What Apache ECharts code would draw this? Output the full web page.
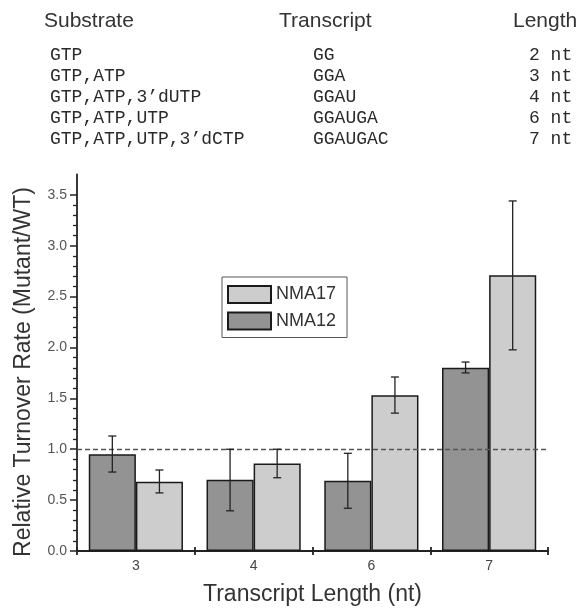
<!DOCTYPE html>
<html>
<head>
<meta charset="utf-8">
<script src="https://cdn.jsdelivr.net/npm/echarts@6/dist/echarts.min.js"></script>
<style>html,body{margin:0;padding:0;background:#fff}#c{width:579px;height:611px}</style>
</head>
<body>
<div id="c"></div>
<script>
// ---- data ----
const categories = ['3', '4', '6', '7'];
const nma12 = [0.952, 0.70, 0.69, 1.80];
const nma17 = [0.681, 0.861, 1.53, 2.71];
const nma12Low = [0.776, 0.395, 0.42, 1.75];
const nma12High = [1.13, 1.00, 0.96, 1.857];
const nma17Low = [0.571, 0.72, 1.355, 1.977];
const nma17High = [0.796, 1.00, 1.71, 3.44];
const refLine = 1.0;
const yMajorTicks = [0, 0.5, 1.0, 1.5, 2.0, 2.5, 3.0, 3.5];
const yMinorTicks = [0.1, 0.2, 0.3, 0.4, 0.6, 0.7, 0.8, 0.9, 1.1, 1.2, 1.3, 1.4, 1.6, 1.7, 1.8, 1.9,
  2.1, 2.2, 2.3, 2.4, 2.6, 2.7, 2.8, 2.9, 3.1, 3.2, 3.3, 3.4];
const headers = ['Substrate', 'Transcript', 'Length'];
const substrates = ['GTP', 'GTP,ATP', 'GTP,ATP,3\u2019dUTP', 'GTP,ATP,UTP', 'GTP,ATP,UTP,3\u2019dCTP'];
const transcripts = ['GG', 'GGA', 'GGAU', 'GGAUGA', 'GGAUGAC'];
const lengths = ['2 nt', '3 nt', '4 nt', '6 nt', '7 nt'];

// ---- chart ----
const SANS = "'Liberation Sans', Arial, sans-serif";
const MONO = "'Liberation Mono', 'Courier New', monospace";
const chart = echarts.init(document.getElementById('c'), null, {renderer: 'canvas'});

const headerX = [44, 279, 513];
const rowX = [50, 313, 529];
const rowY0 = 55, rowStep = 21;
const graphics = [];
headers.forEach((h, i) => graphics.push({
  type: 'text', x: headerX[i], y: 21,
  style: {text: h, font: '21px ' + SANS, fill: '#333', textVerticalAlign: 'middle', verticalAlign: 'middle'}
}));
[substrates, transcripts, lengths].forEach((col, ci) => col.forEach((t, ri) => graphics.push({
  type: 'text', x: rowX[ci], y: rowY0 + ri * rowStep,
  style: {text: t, font: '18px ' + MONO, fill: '#2a2a2a', textVerticalAlign: 'middle', verticalAlign: 'middle'}
})));
graphics.push({
  type: 'text', x: 24, y: 372, rotation: Math.PI / 2,
  style: {text: 'Relative Turnover Rate (Mutant/WT)', font: '23px ' + SANS, fill: '#333',
    align: 'center', verticalAlign: 'middle', textAlign: 'center', textVerticalAlign: 'middle'}
});

function errRender(sign) {
  return function (params, api) {
    const c = api.value(0);
    const lo = api.coord([c, api.value(1)]);
    const hi = api.coord([c, api.value(2)]);
    const bw = api.size([1, 0])[0];
    const x = lo[0] + sign * bw * 0.2;
    const cap = 4;
    const st = {stroke: '#222', lineWidth: 1.3};
    return {type: 'group', children: [
      {type: 'line', shape: {x1: x, y1: lo[1], x2: x, y2: hi[1]}, style: st},
      {type: 'line', shape: {x1: x - cap, y1: hi[1], x2: x + cap, y2: hi[1]}, style: st},
      {type: 'line', shape: {x1: x - cap, y1: lo[1], x2: x + cap, y2: lo[1]}, style: st}
    ]};
  };
}

const option = {
  animation: false,
  backgroundColor: '#fff',
  graphic: graphics,
  grid: {left: 77, right: 31, top: 174.5, bottom: 57.5, containLabel: false},
  legend: {
    data: ['NMA17', 'NMA12'],
    orient: 'vertical', left: 222, top: 277,
    icon: 'rect', itemWidth: 43, itemHeight: 17, itemGap: 7.5,
    padding: [8, 11, 7, 5],
    borderColor: '#555', borderWidth: 1, backgroundColor: '#fff',
    textStyle: {fontFamily: SANS, fontSize: 18, color: '#333'},
    selectedMode: false
  },
  xAxis: [{
    type: 'category', data: categories, position: 'bottom',
    axisLine: {lineStyle: {color: '#222', width: 1.8}},
    axisTick: {show: true, length: 4, lineStyle: {color: '#222', width: 1.8}},
    axisLabel: {fontFamily: SANS, fontSize: 14, color: '#444', margin: 8},
    name: 'Transcript Length (nt)', nameLocation: 'middle', nameGap: 32,
    nameTextStyle: {fontFamily: SANS, fontSize: 23, color: '#333'},
    splitLine: {show: false}
  }, {
    type: 'category', data: categories, position: 'bottom',
    axisLine: {show: false},
    axisTick: {show: true, inside: true, length: 4, lineStyle: {color: '#222', width: 1.8}},
    axisLabel: {show: false}, splitLine: {show: false}
  }],
  yAxis: [{
    type: 'value', min: 0, max: 3.7, interval: 0.1, position: 'left',
    axisLine: {show: true, lineStyle: {color: '#222', width: 1.8}},
    axisTick: {show: true, length: 7, customValues: yMajorTicks, lineStyle: {color: '#222', width: 1.5}},
    axisLabel: {customValues: yMajorTicks, formatter: v => v.toFixed(1),
      fontFamily: SANS, fontSize: 14, color: '#555', margin: 10},
    splitLine: {show: false}
  }, {
    type: 'value', min: 0, max: 3.7, interval: 0.1, position: 'left',
    axisLine: {show: false},
    axisTick: {show: true, length: 4, customValues: yMinorTicks, lineStyle: {color: '#222', width: 1.3}},
    axisLabel: {show: false}, splitLine: {show: false}
  }],
  series: [{
    name: 'NMA12', type: 'bar', data: nma12, barGap: '0%', barCategoryGap: '20%',
    itemStyle: {color: '#939393', borderColor: '#1a1a1a', borderWidth: 1.5},
    markLine: {
      silent: true, symbol: 'none', label: {show: false},
      lineStyle: {type: [5, 3], color: '#555', width: 1.3},
      data: [{yAxis: refLine}]
    }
  }, {
    name: 'NMA17', type: 'bar', data: nma17, barGap: '0%', barCategoryGap: '20%',
    itemStyle: {color: '#cdcdcd', borderColor: '#1a1a1a', borderWidth: 1.5}
  }, {
    name: 'err12', type: 'custom', renderItem: errRender(-1), z: 5,
    data: categories.map((c, i) => [i, nma12Low[i], nma12High[i]]),
    encode: {x: 0, y: [1, 2]}
  }, {
    name: 'err17', type: 'custom', renderItem: errRender(1), z: 5,
    data: categories.map((c, i) => [i, nma17Low[i], nma17High[i]]),
    encode: {x: 0, y: [1, 2]}
  }]
};
chart.setOption(option);
</script>
</body>
</html>
